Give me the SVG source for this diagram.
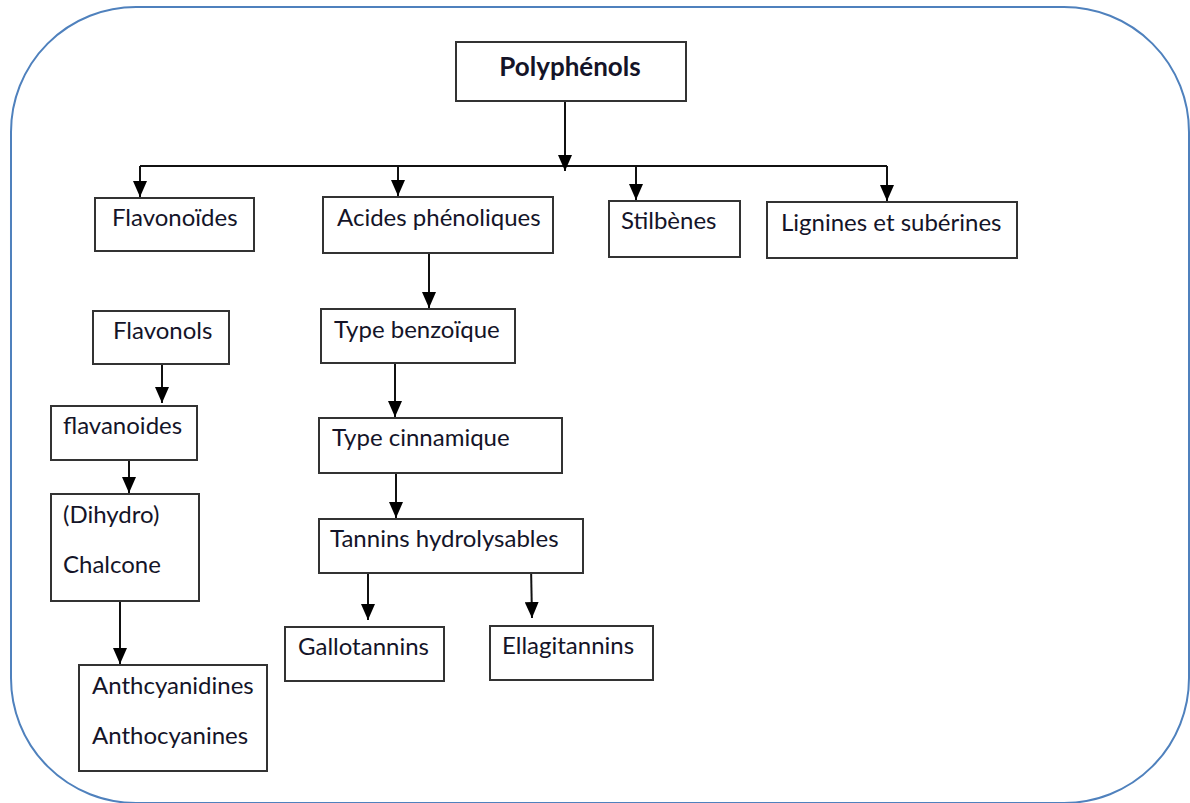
<svg xmlns="http://www.w3.org/2000/svg" width="1190" height="803" viewBox="0 0 1190 803">
<defs>
<marker id="ah" markerUnits="userSpaceOnUse" markerWidth="16" markerHeight="14" viewBox="0 0 16 14" refX="16" refY="7" orient="auto">
<path d="M0,0 L16,7 L0,14 Z" fill="#000"/>
</marker>
<style>
.box{fill:#fff;stroke:#333;stroke-width:2}
.t{font-family:Lato,"Open Sans","Liberation Sans",sans-serif;font-size:24px;fill:#141428}
.b{font-weight:bold;font-size:26px}
.c line{stroke:#111;stroke-width:2;fill:none}
.a{marker-end:url(#ah)}
</style>
</defs>
<rect x="11" y="7" width="1178" height="796" rx="125" ry="125" fill="#fff" stroke="#4f81bd" stroke-width="2"/>
<g class="c" id="connectors">
<line x1="140" y1="166" x2="887" y2="166"/>
<line class="a" x1="565" y1="101" x2="565" y2="171"/>
<line class="a" x1="140" y1="166" x2="140" y2="197"/>
<line class="a" x1="398" y1="166" x2="398" y2="196"/>
<line class="a" x1="636" y1="166" x2="636" y2="200"/>
<line class="a" x1="887" y1="166" x2="887" y2="201"/>
<line class="a" x1="429" y1="253" x2="429" y2="308"/>
<line class="a" x1="395" y1="363" x2="395" y2="417"/>
<line class="a" x1="396" y1="473" x2="396" y2="518"/>
<line class="a" x1="368" y1="566" x2="368" y2="620"/>
<line class="a" x1="531" y1="566" x2="532" y2="618"/>
<line class="a" x1="162" y1="364" x2="162" y2="403"/>
<line class="a" x1="129" y1="458" x2="129" y2="493"/>
<line class="a" x1="120" y1="601" x2="120" y2="664"/>
</g>
<g id="polyphenols"><rect class="box" x="456" y="42" width="230" height="59"/><text class="t b" x="570" y="76" text-anchor="middle">Polyphénols</text></g>
<g id="flavonoides"><rect class="box" x="95" y="198" width="159" height="53"/><text class="t" x="112" y="226">Flavonoïdes</text></g>
<g id="acides"><rect class="box" x="323" y="197" width="230" height="56"/><text class="t" x="337" y="226">Acides phénoliques</text></g>
<g id="stilbenes"><rect class="box" x="609" y="201" width="131" height="56"/><text class="t" x="621" y="229">Stilbènes</text></g>
<g id="lignines"><rect class="box" x="767" y="202" width="250" height="56"/><text class="t" x="781" y="231">Lignines et subérines</text></g>
<g id="benzoique"><rect class="box" x="321" y="309" width="194" height="54"/><text class="t" x="334" y="338">Type benzoïque</text></g>
<g id="cinnamique"><rect class="box" x="319" y="418" width="243" height="55"/><text class="t" x="332" y="446">Type cinnamique</text></g>
<g id="tannins"><rect class="box" x="319" y="519" width="264" height="54"/><text class="t" x="330" y="547">Tannins hydrolysables</text></g>
<g id="gallotannins"><rect class="box" x="285" y="627" width="159" height="54"/><text class="t" x="298" y="655">Gallotannins</text></g>
<g id="ellagitannins"><rect class="box" x="490" y="626" width="163" height="54"/><text class="t" x="502" y="654">Ellagitannins</text></g>
<g id="flavonols"><rect class="box" x="93" y="311" width="136" height="53"/><text class="t" x="113" y="339">Flavonols</text></g>
<g id="flavanoides"><rect class="box" x="51" y="406" width="146" height="54"/><text class="t" x="63" y="434">flavanoides</text></g>
<g id="chalcone"><rect class="box" x="51" y="494" width="148" height="107"/><text class="t" x="63" y="523">(Dihydro)</text><text class="t" x="63" y="573">Chalcone</text></g>
<g id="anthocyanines"><rect class="box" x="79" y="665" width="188" height="106"/><text class="t" x="92" y="694">Anthcyanidines</text><text class="t" x="92" y="744">Anthocyanines</text></g>
</svg>
